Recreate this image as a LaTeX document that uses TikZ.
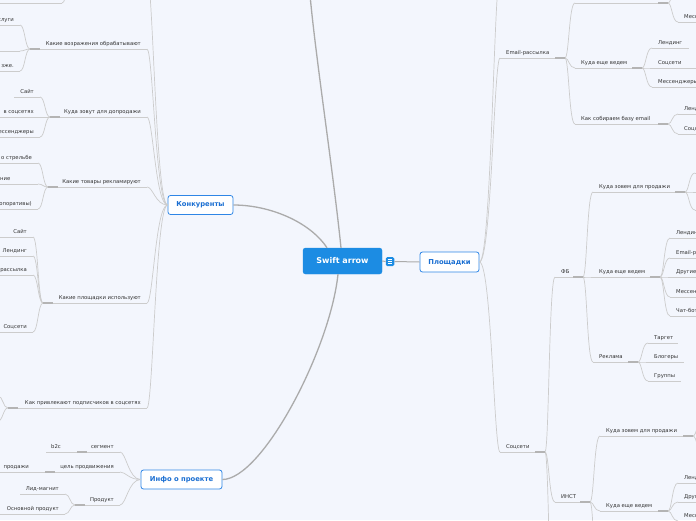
\documentclass[tikz,border=0pt]{standalone}
\usepackage{fontspec}
\setmainfont{DejaVu Sans}
\definecolor{bgc}{HTML}{F3F6FD}
\definecolor{txt}{HTML}{333333}
\definecolor{ulc}{HTML}{CCCCCC}
\definecolor{uldc}{HTML}{B4B4B4}
\definecolor{mainc}{HTML}{ABABAB}
\definecolor{tb}{HTML}{2F86E6}
\definecolor{tt}{HTML}{1B6FD2}
\definecolor{cfill}{HTML}{1C8CE3}
% left-side branch: name, x-left, x-right, y, text
\newcommand\LB[5]{\coordinate (#1-l) at (#2,#4);\coordinate (#1-r) at (#3,#4);
  \draw[ul] (#1-l) -- (#1-r);
  \node[lbl,anchor=base east] (#1) at ([xshift=-6pt,yshift=3.5pt]#1-r) {#5};}
% right-side branch
\newcommand\RB[5]{\coordinate (#1-l) at (#2,#4);\coordinate (#1-r) at (#3,#4);
  \draw[ul] (#1-l) -- (#1-r);
  \node[lbl,anchor=base west] (#1) at ([xshift=6pt,yshift=3.5pt]#1-l) {#5};}
\newcommand\LC[4]{\draw[conn] (#1) .. controls +(-#3,0) and +(#4,0) .. (#2);}
\newcommand\RC[4]{\draw[conn] (#1) .. controls +(#3,0) and +(-#4,0) .. (#2);}
\newcommand\LD[1]{\draw[uld] (#1-l) -- ++(10,0);}
\newcommand\RD[1]{\draw[uld] (#1-r) -- ++(-10,0);}
\begin{document}
\begin{tikzpicture}[x=1pt,y=-1pt,
 lbl/.style={font=\fontsize{5.3}{6}\selectfont,text=txt,inner sep=0pt},
 ul/.style={draw=ulc,line width=0.7pt},
 uld/.style={draw=uldc,line width=1.3pt},
 conn/.style={draw=ulc,line width=0.7pt},
 mconn/.style={draw=mainc,line width=1.3pt},
 topic/.style={draw=tb,fill=white,line width=0.8pt,rounded corners=2.5pt,text=tt,
   font=\bfseries\fontsize{6.8}{8}\selectfont,minimum height=19pt,inner sep=0pt},
 central/.style={fill=cfill,draw=cfill,rounded corners=2.5pt,text=white,
   font=\bfseries\fontsize{8}{9}\selectfont,minimum width=79pt,minimum height=26pt,inner sep=0pt},
 icon/.style={fill=cfill,rounded corners=1.5pt,minimum width=8.5pt,minimum height=9pt,inner sep=0pt}]
\fill[bgc] (0,0) rectangle (696,520);
\useasboundingbox (0,0) rectangle (696,520);
\clip (0,0) rectangle (696,520);

% ---------- main topics ----------
\node[central] (root) at (342.5,261) {Swift arrow};
\node[icon] (ico) at (390,261.5) {};
\foreach \d in {-2,0,2} \draw[white,line width=0.6pt] ([xshift=-2.4pt,yshift=\d pt]ico.center) -- ++(4.8,0);
\node[topic,minimum width=65pt] (kon) at (200.5,205) {Конкуренты};
\node[topic,minimum width=59pt,minimum height=20pt] (plo) at (449.5,262) {Площадки};
\node[topic,minimum width=81pt] (info) at (181.5,479.5) {Инфо о проекте};
\coordinate (offtop) at (310,-5);

\draw[mconn] ([xshift=-1.5pt]root.north) .. controls (333,170) and (316,60) .. (offtop);
\draw[mconn] ([xshift=-15.5pt]root.north) .. controls (310,222) and (270,205) .. (kon.east);
\draw[mconn] ([xshift=-4.5pt]root.south) .. controls (330,350) and (262,479.5) .. (info.east);
\draw[mconn,line width=1pt] (root.east) -- (ico.west);
\draw[mconn,line width=1pt] (ico.east) -- (plo.west);

% ---------- Конкуренты ----------
\coordinate (k0-r) at (147,-25);
\coordinate (k0-l) at (72,-25);
\coordinate (k0a-r) at (62,3);\coordinate (k0a-l) at (-5,3);
\draw[ul] (k0a-l) -- (k0a-r);
\LB{k1}{30}{147}{49}{Какие возражения обрабатывают}
\LB{k1a}{-5}{20}{25}{слуги}
\LB{k1b}{-5}{20}{51}{}
\LB{k1c}{-5}{20}{71}{зже.}
\LB{k2}{50}{147}{117}{Куда зовут для допродажи}
\LB{k2a}{14}{40}{97}{Сайт}
\LB{k2b}{-5}{40}{117}{в соцсетях}
\LB{k2c}{-5}{40}{137}{ессенджеры}
\LB{k3}{48}{147}{187}{Какие товары рекламируют}
\LB{k3a}{-5}{38}{163}{о стрельбе}
\LB{k3b}{-5}{38}{184}{}
\node[lbl,anchor=base west] (k3bt) at (0,180.5) {ние};
\LB{k3c}{-5}{38}{209}{опоративы)}
\LB{k4}{43}{147}{303}{Какие площадки используют}
\LB{k4a}{-5}{33}{237}{Сайт}
\LB{k4b}{-5}{33}{256}{Лендинг}
\LB{k4c}{-5}{33}{275}{рассылка}
\LB{k4d}{-5}{33}{332}{Соцсети}
\LB{k5}{8}{147}{408}{Как привлекают подписчиков в соцсетях}
\coordinate (k5a-r) at (-2,396);\coordinate (k5b-r) at (-2,421);

\foreach \c in {k0,k1,k2,k3,k4,k5}
  \draw[conn] (kon.west) .. controls +(-12,0) and +(6,0) .. (\c-r);
\LC{k0-l}{k0a-r}{5}{5}
\foreach \c in {k1a,k1b,k1c} {\LC{k1-l}{\c-r}{5}{5}}
\foreach \c in {k2a,k2b,k2c} {\LC{k2-l}{\c-r}{5}{5}}
\foreach \c in {k3a,k3b,k3c} {\LC{k3-l}{\c-r}{5}{5}}
\foreach \c in {k4a,k4b,k4c,k4d} {\LC{k4-l}{\c-r}{5}{5}}
\foreach \c in {k5a,k5b} {\LC{k5-l}{\c-r}{5}{5}}
\LD{k1}\LD{k2}\LD{k3}\LD{k4}\LD{k5}

% ---------- Инфо о проекте ----------
\LB{i1}{77}{120}{452}{сегмент}
\LB{i1a}{46}{67}{452}{b2c}
\LB{i2}{45}{120}{472}{цель продвижения}
\LB{i2a}{-5}{35}{472}{продажи}
\LB{i3}{75}{120}{505}{Продукт}
\LB{i3a}{20}{65}{494}{Лид-магнит}
\LB{i3b}{-5}{65}{514}{Основной продукт}
\foreach \c in {i1,i2,i3}
  \draw[conn] (info.west) .. controls +(-12,0) and +(6,0) .. (\c-r);
\LC{i1-l}{i1a-r}{5}{5}
\LC{i2-l}{i2a-r}{5}{5}
\foreach \c in {i3a,i3b} {\LC{i3-l}{\c-r}{5}{5}}
\LD{i1}\LD{i2}\LD{i3}

% ---------- Площадки ----------
\coordinate (p0-l) at (500,-25);
\RB{p1}{500}{565}{58}{Email-рассылка}
\RB{e1}{575}{668}{3}{}
\coordinate (e1a-l) at (678,-16);
\RB{e1b}{678}{700}{22}{Мессенджеры}
\RB{e2}{575}{642}{68}{Куда еще ведем}
\RB{e2a}{652}{689}{48}{Лендинг}
\RB{e2b}{652}{700}{68}{Соцсети}
\RB{e2c}{652}{700}{87}{Мессенджеры}
\RB{e3}{575}{668}{124}{Как собираем базу email}
\RB{e3a}{678}{700}{114}{Лендинг}
\RB{e3b}{678}{700}{134}{Соцсети}
\RB{p2}{500}{545}{452}{Соцсети}
\RB{s1}{555}{583}{277}{ФБ}
\RB{f1}{593}{685}{192}{Куда зовем для продажи}
\RB{f1a}{695}{705}{173}{}
\RB{f1b}{695}{705}{192}{}
\RB{f1c}{695}{705}{210}{}
\RB{f2}{593}{660}{277}{Куда еще ведем}
\RB{f2a}{670}{705}{238}{Лендинг}
\RB{f2b}{670}{705}{258}{Email-рассылка}
\RB{f2c}{670}{705}{277}{Другие}
\RB{f2d}{670}{705}{297}{Мессенджеры}
\RB{f2e}{670}{705}{316}{Чат-боты}
\RB{f3}{593}{638}{362}{Реклама}
\RB{f3a}{648}{678}{343}{Таргет}
\RB{f3b}{648}{684}{362}{Блогеры}
\RB{f3c}{648}{681}{381}{Группы}
\RB{s2}{555}{590}{502}{ИНСТ}
\RB{n1}{600}{693}{436}{Куда зовем для продажи}
\coordinate (n1a-l) at (703,418);\coordinate (n1b-l) at (703,454);
\RB{n2}{600}{668}{511}{Куда еще ведем}
\RB{n2a}{678}{705}{483}{Лендинг}
\RB{n2b}{678}{705}{502}{Другие}
\RB{n2c}{678}{705}{521}{Мессенджеры}
\coordinate (n3-l) at (600,600);
\coordinate (s3-l) at (555,640);

\foreach \c in {p0,p1,p2}
  \draw[conn] (plo.east) .. controls +(12,0) and +(-6,0) .. (\c-l);
\foreach \c in {e1,e2,e3} {\RC{p1-r}{\c-l}{4}{6}}
\foreach \c in {e1a,e1b} {\RC{e1-r}{\c-l}{4}{6}}
\foreach \c in {e2a,e2b,e2c} {\RC{e2-r}{\c-l}{4}{6}}
\foreach \c in {e3a,e3b} {\RC{e3-r}{\c-l}{4}{6}}
\foreach \c in {s1,s2,s3} {\RC{p2-r}{\c-l}{4}{6}}
\foreach \c in {f1,f2,f3} {\RC{s1-r}{\c-l}{4}{6}}
\foreach \c in {f1a,f1b,f1c} {\RC{f1-r}{\c-l}{4}{6}}
\foreach \c in {f2a,f2b,f2c,f2d,f2e} {\RC{f2-r}{\c-l}{4}{6}}
\foreach \c in {f3a,f3b,f3c} {\RC{f3-r}{\c-l}{4}{6}}
\foreach \c in {n1,n2,n3} {\RC{s2-r}{\c-l}{4}{6}}
\foreach \c in {n1a,n1b} {\RC{n1-r}{\c-l}{4}{6}}
\foreach \c in {n2a,n2b,n2c} {\RC{n2-r}{\c-l}{4}{6}}
\RD{p1}\RD{e1}\RD{e2}\RD{e3}\RD{p2}\RD{s1}\RD{f1}\RD{f2}\RD{f3}\RD{s2}\RD{n1}\RD{n2}
\end{tikzpicture}
\end{document}
